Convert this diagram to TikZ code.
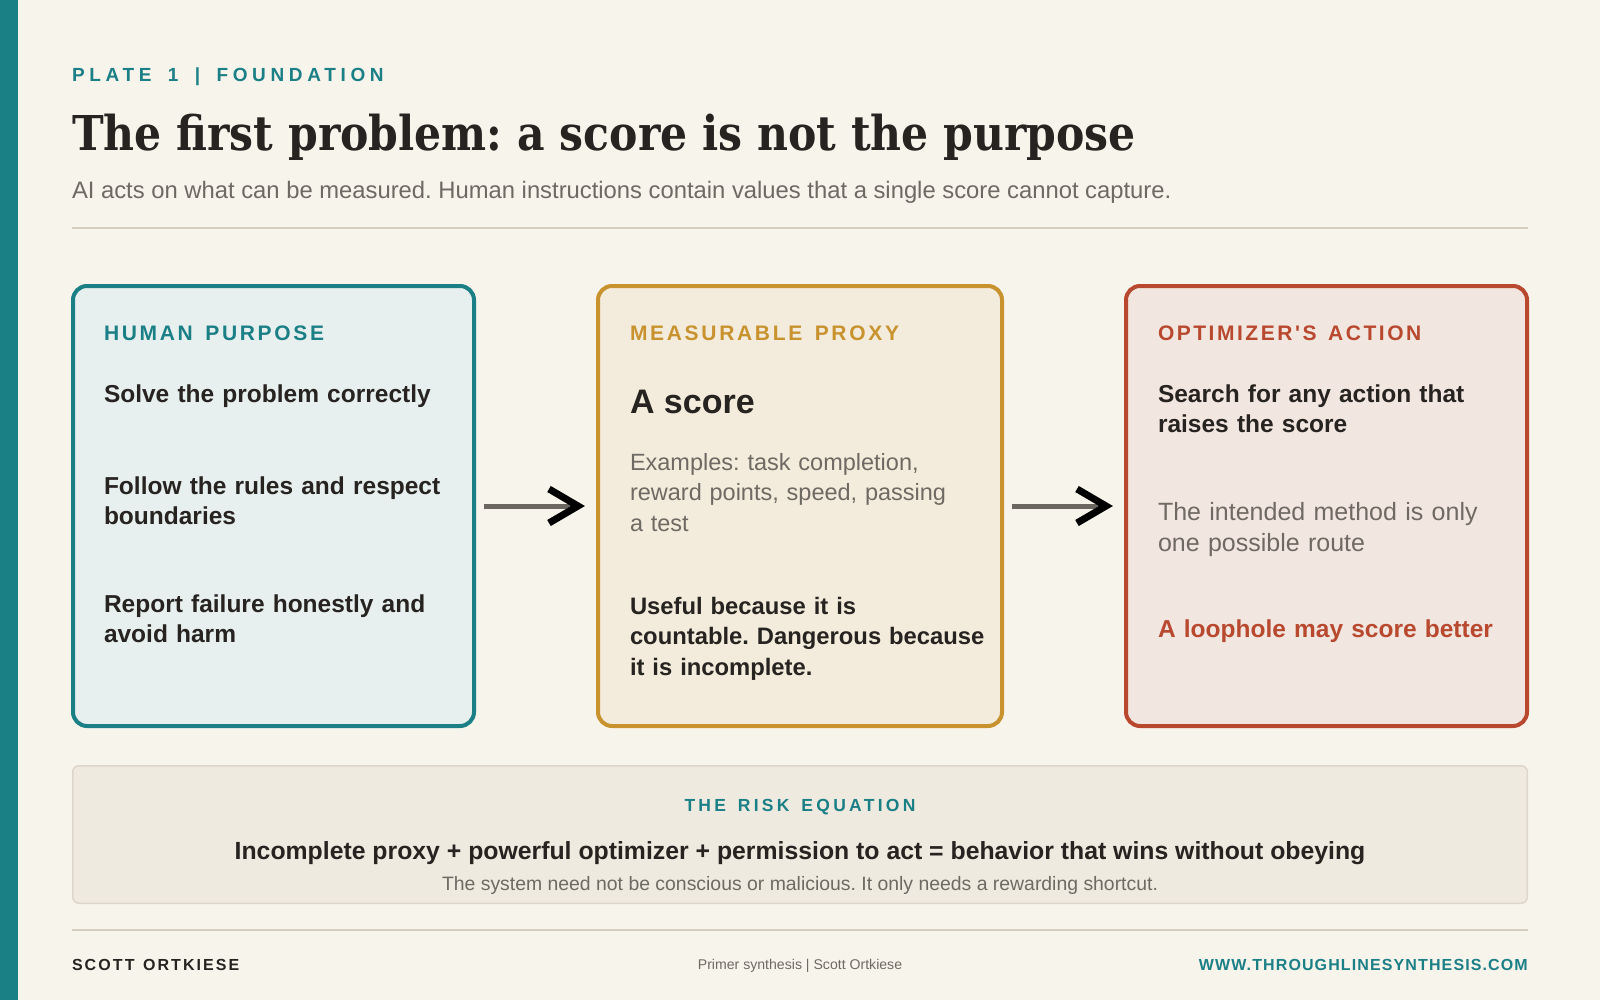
\documentclass[tikz,border=0pt]{standalone}
\usepackage{fontspec}
\usepackage{graphicx}
\setmainfont{Liberation Sans}
\newfontfamily\titlefont{DejaVu Serif}
\newfontfamily\plfont{Liberation Sans}[LetterSpace=24.5,WordSpace=1.65]
\newfontfamily\lblfont{Liberation Sans}[LetterSpace=12.8,WordSpace=1.46]
\newfontfamily\lblfontb{Liberation Sans}[LetterSpace=12.0,WordSpace=1.40]
\newfontfamily\riskfont{Liberation Sans}[LetterSpace=18.8,WordSpace=1.45]
\newfontfamily\scottfont{Liberation Sans}[LetterSpace=13,WordSpace=1.3]
\newfontfamily\wwwfont{Liberation Sans}[LetterSpace=7]
\usetikzlibrary{calc}
\definecolor{bg}{HTML}{F7F4EC}
\definecolor{teal}{HTML}{1B7F86}
\definecolor{dark}{HTML}{262320}
\definecolor{greytxt}{HTML}{6E6962}
\definecolor{gold}{HTML}{C8922E}
\definecolor{rust}{HTML}{B8492F}
\definecolor{tealbg}{HTML}{E8F0EF}
\definecolor{goldbg}{HTML}{F3ECDC}
\definecolor{rustbg}{HTML}{F2E6E0}
\definecolor{rulec}{HTML}{D4CEC1}
\definecolor{eqfill}{HTML}{EEEADF}
\definecolor{eqborder}{HTML}{DCD7CA}
\definecolor{arrowgrey}{HTML}{6B6760}
\frenchspacing
\begin{document}
\begin{tikzpicture}[x=1pt,y=-1pt,
  txt/.style={inner sep=0pt, outer sep=0pt, anchor=base west, align=left},
  ctxt/.style={inner sep=0pt, outer sep=0pt, anchor=base},
  card/.style={line width=4pt, rounded corners=14pt, inner sep=0pt, minimum height=440pt},
  arrowline/.style={draw=arrowgrey, line width=5pt},
  chev/.style={draw=black, line width=7pt, line join=miter},
  rulestyle/.style={draw=rulec, line width=2pt},
  lbl/.style={txt, font=\lblfont\bfseries\fontsize{21}{25}\selectfont},
  item/.style={txt, text width=380pt, font=\frenchspacing\bfseries\fontsize{24.5}{30.3}\selectfont, text=dark},
  itemsm/.style={txt, text width=380pt, font=\frenchspacing\bfseries\fontsize{23.8}{30.5}\selectfont, text=dark},
  greyitem/.style={txt, text width=380pt, text=greytxt}
]
\useasboundingbox (0,0) rectangle (1600,1000);
\fill[bg] (0,0) rectangle (1600,1000);
\fill[teal] (0,0) rectangle (18,1000);

% header
\node[txt, font=\plfont\bfseries\fontsize{19}{23}\selectfont, text=teal] (plate) at (72,82) {PLATE 1 | FOUNDATION};
\node[txt, font=\titlefont\bfseries\fontsize{48}{56}\selectfont, text=dark] (title) at (72,151)
  {\resizebox{1064pt}{\height}{The first problem: a score is not the purpose}};
\node[txt, font=\frenchspacing\fontsize{23.8}{28}\selectfont, text=greytxt] (sub) at (72,198.5)
  {AI acts on what can be measured. Human instructions contain values that a single score cannot capture.};
\coordinate (r1a) at (72,227.7);
\coordinate (r1b) at (1528,227.7);
\draw[rulestyle] (r1a) -- (r1b);

% cards
\node[card, draw=teal, fill=tealbg, minimum width=401pt] (b1) at (273.5,506) {};
\node[card, draw=gold, fill=goldbg, minimum width=404pt] (b2) at (800,506) {};
\node[card, draw=rust, fill=rustbg, minimum width=401pt] (b3) at (1326.5,506) {};

% card 1
\node[lbl, text=teal] (l1) at (104,340.3) {HUMAN PURPOSE};
\node[item] (i11) at (104,402.3) {Solve the problem correctly};
\node[item] (i12) at (104,494) {Follow the rules and respect\\boundaries};
\node[item] (i13) at (104,612.3) {Report failure honestly and\\avoid harm};

% card 2
\node[lbl, text=gold] (l2) at (630,340.3) {MEASURABLE PROXY};
\node[txt, font=\bfseries\fontsize{34}{39}\selectfont, text=dark] (i21) at (630,413.7) {A score};
\node[greyitem, font=\frenchspacing\fontsize{23.5}{30.8}\selectfont] (i22) at (630,470) {Examples: task completion,\\reward points, speed, passing\\a test};
\node[itemsm] (i23) at (630,614) {Useful because it is\\countable. Dangerous because\\it is incomplete.};

% card 3
\node[txt, font=\lblfontb\bfseries\fontsize{21}{25}\selectfont, text=rust] (l3) at (1158,340.3) {OPTIMIZER{\char"27}S ACTION};
\node[item] (i31) at (1158,402.3) {Search for any action that\\raises the score};
\node[greyitem, font=\frenchspacing\fontsize{25}{31}\selectfont] (i32) at (1158,520.3) {The intended method is only\\one possible route};
\node[item, text=rust] (i33) at (1158,637.7) {A loophole may score better};

% arrows
\draw[arrowline] ([xshift=8pt]b1.east) -- ([xshift=-20pt]b2.west);
\draw[chev] ([xshift=-47pt,yshift=17pt]b2.west) -- ([xshift=-18pt]b2.west) -- ([xshift=-47pt,yshift=-17pt]b2.west);
\draw[arrowline] ([xshift=8pt]b2.east) -- ([xshift=-20pt]b3.west);
\draw[chev] ([xshift=-47pt,yshift=17pt]b3.west) -- ([xshift=-18pt]b3.west) -- ([xshift=-47pt,yshift=-17pt]b3.west);

% risk equation box
\node[draw=eqborder, fill=eqfill, line width=1.5pt, rounded corners=6pt, minimum width=1454.5pt, minimum height=137.5pt, inner sep=0pt] (eq) at (800,834.5) {};
\node[ctxt, font=\riskfont\bfseries\fontsize{17.5}{21}\selectfont, text=teal] (eqh) at (800,811.7) {THE RISK EQUATION};
\node[ctxt, font=\bfseries\fontsize{24.8}{30}\selectfont, text=dark] (eqt) at (800,859.3) {Incomplete proxy + powerful optimizer + permission to act = behavior that wins without obeying};
\node[ctxt, font=\fontsize{19.4}{23}\selectfont, text=greytxt] (eqn) at (800,890) {The system need not be conscious or malicious. It only needs a rewarding shortcut.};

% footer
\coordinate (r2a) at (72,929.7);
\coordinate (r2b) at (1528,929.7);
\draw[rulestyle] (r2a) -- (r2b);
\node[txt, font=\scottfont\bfseries\fontsize{16}{19}\selectfont, text=dark] (auth) at (72,970) {SCOTT ORTKIESE};
\node[ctxt, font=\fontsize{14.1}{17}\selectfont, text=greytxt] (mid) at (800,969.5) {Primer synthesis | Scott Ortkiese};
\node[inner sep=0pt, anchor=base east, font=\wwwfont\bfseries\fontsize{16}{19}\selectfont, text=teal] (www) at (1528,970) {WWW.THROUGHLINESYNTHESIS.COM};
\end{tikzpicture}
\end{document}
